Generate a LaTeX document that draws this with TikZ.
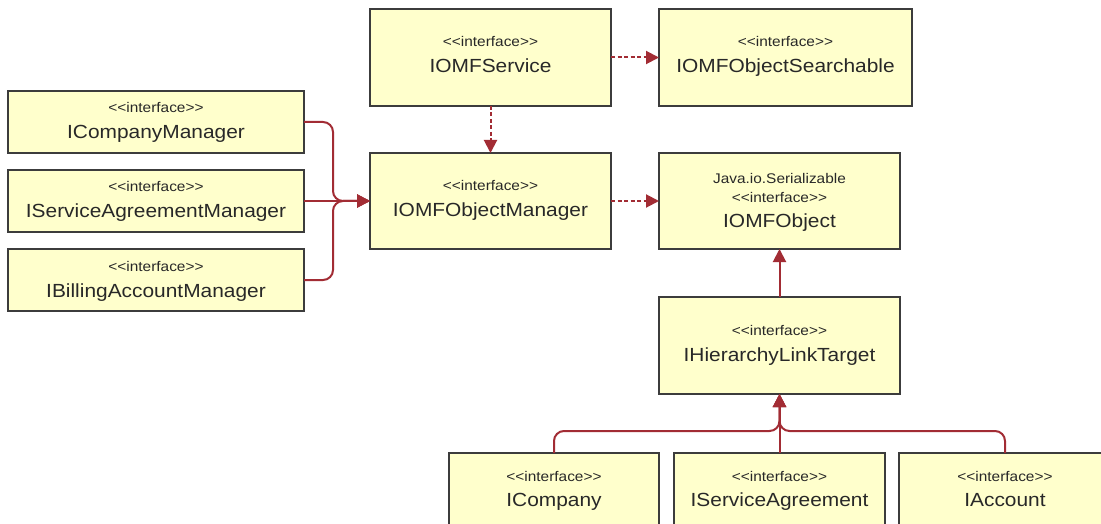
\documentclass[tikz,border=0pt]{standalone}
\usepackage{fontspec}
\setmainfont{Liberation Sans}[FakeStretch=1.1]
\usetikzlibrary{arrows.meta}
\definecolor{boxfill}{RGB}{255,255,204}
\definecolor{boxline}{RGB}{60,60,60}
\definecolor{conncol}{RGB}{162,44,52}
\definecolor{txtcol}{RGB}{40,40,40}
\newcommand{\stereotxt}{<\kern0pt<interface>\kern0pt>}
\begin{document}
\begin{tikzpicture}[x=1pt,y=-1pt,
  umlbox/.style={draw=boxline, fill=boxfill, line width=2pt, rectangle, inner sep=0pt, outer sep=0pt},
  stereo/.style={anchor=base, inner sep=0pt, text=txtcol, font=\fontsize{14}{16}\selectfont},
  cname/.style={anchor=base, inner sep=0pt, text=txtcol, font=\fontsize{19}{22}\selectfont},
  conn/.style={draw=conncol, line width=2pt},
  tip/.style={-{Triangle[length=13pt,width=13pt]}},
  dep/.style={conn, tip, dash pattern=on 4pt off 2.5pt},
  gen/.style={conn, tip, rounded corners=10pt}]
\clip (0,0) rectangle (1101,524);
\fill[white] (0,0) rectangle (1101,524);

% boxes
\node[umlbox, minimum width=296pt, minimum height=62pt] (icm) at (156,122) {};
\node[umlbox, minimum width=296pt, minimum height=62pt] (isam) at (156,201) {};
\node[umlbox, minimum width=296pt, minimum height=62pt] (ibam) at (156,280) {};
\node[umlbox, minimum width=241pt, minimum height=97pt] (svc) at (490.5,57.5) {};
\node[umlbox, minimum width=253pt, minimum height=97pt] (srch) at (785.5,57.5) {};
\node[umlbox, minimum width=241pt, minimum height=96pt] (mgr) at (490.5,201) {};
\node[umlbox, minimum width=241pt, minimum height=96pt] (obj) at (779.5,201) {};
\node[umlbox, minimum width=241pt, minimum height=97pt] (hlt) at (779.5,345.5) {};
\node[umlbox, minimum width=210pt, minimum height=100pt] (ic) at (554,503) {};
\node[umlbox, minimum width=211pt, minimum height=100pt] (isa) at (779.5,503) {};
\node[umlbox, minimum width=212pt, minimum height=100pt] (ia) at (1005,503) {};

% texts
\node[stereo] (icm-s) at ([yshift=9pt]icm.center) {\stereotxt};
\node[cname] (icm-n) at ([yshift=-17pt]icm.center) {ICompanyManager};
\node[stereo] (isam-s) at ([yshift=9pt]isam.center) {\stereotxt};
\node[cname] (isam-n) at ([yshift=-17pt]isam.center) {IServiceAgreementManager};
\node[stereo] (ibam-s) at ([yshift=9pt]ibam.center) {\stereotxt};
\node[cname] (ibam-n) at ([yshift=-17pt]ibam.center) {IBillingAccountManager};
\node[stereo] (svc-s) at ([yshift=10.5pt]svc.center) {\stereotxt};
\node[cname] (svc-n) at ([yshift=-15.5pt]svc.center) {IOMFService};
\node[stereo] (srch-s) at ([yshift=10.5pt]srch.center) {\stereotxt};
\node[cname] (srch-n) at ([yshift=-15.5pt]srch.center) {IOMFObjectSearchable};
\node[stereo] (mgr-s) at ([yshift=10.5pt]mgr.center) {\stereotxt};
\node[cname] (mgr-n) at ([yshift=-15.5pt]mgr.center) {IOMFObjectManager};
\node[stereo] (obj-j) at ([yshift=18pt]obj.center) {Java.io.Serializable};
\node[stereo] (obj-s) at ([yshift=-1pt]obj.center) {\stereotxt};
\node[cname] (obj-n) at ([yshift=-26pt]obj.center) {IOMFObject};
\node[stereo] (hlt-s) at ([yshift=10.5pt]hlt.center) {\stereotxt};
\node[cname] (hlt-n) at ([yshift=-15.5pt]hlt.center) {IHierarchyLinkTarget};
\node[stereo] (ic-s) at ([yshift=-28pt]ic.north) {\stereotxt};
\node[cname] (ic-n) at ([yshift=-53pt]ic.north) {ICompany};
\node[stereo] (isa-s) at ([yshift=-28pt]isa.north) {\stereotxt};
\node[cname] (isa-n) at ([yshift=-53pt]isa.north) {IServiceAgreement};
\node[stereo] (ia-s) at ([yshift=-28pt]ia.north) {\stereotxt};
\node[cname] (ia-n) at ([yshift=-53pt]ia.north) {IAccount};

% junction points
\coordinate (jl) at (333,201);
\coordinate (jb) at (779.5,431);

% dependencies (dashed)
\draw[dep] (svc.east) -- (srch.west);
\draw[dep] (svc.south) -- (mgr.north);
\draw[dep] (mgr.east) -- (obj.west);

% generalisations
\draw[gen] (icm.east) -| (jl) -- (mgr.west);
\draw[gen] (ibam.east) -| (jl) -- (mgr.west);
\draw[gen] (isam.east) -- (mgr.west);
\draw[gen] (hlt.north) -- (obj.south);
\draw[gen] (ic.north) |- (jb) -- (hlt.south);
\draw[gen] (ia.north) |- (jb) -- (hlt.south);
\draw[gen] (isa.north) -- (hlt.south);
\end{tikzpicture}
\end{document}
